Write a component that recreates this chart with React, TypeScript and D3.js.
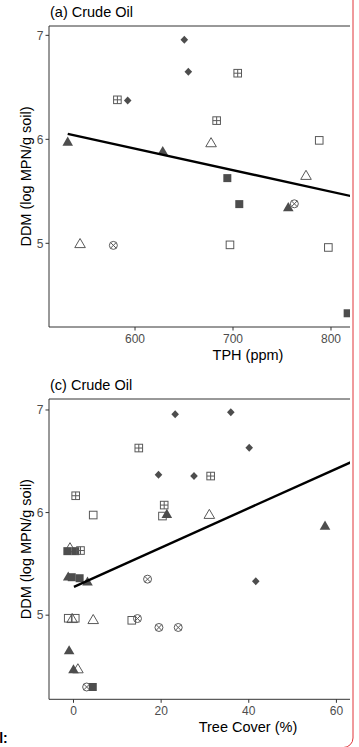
import React from "react";
import * as d3 from "d3";

// ---------- data ----------
// Panel (a): TPH (ppm) vs DDM
const tphValues = [650.3, 654.4, 704.8, 582, 592.5, 683.3, 531.3, 628.3, 677.6, 788, 774.5, 694.2, 706.4, 756.4, 762.6, 543.9, 577.9, 696.9, 797.3, 817];
const tphDDM = [6.957, 6.65, 6.636, 6.38, 6.373, 6.18, 5.98, 5.89, 5.97, 5.99, 5.656, 5.627, 5.377, 5.35, 5.38, 5.0, 4.98, 4.985, 4.96, 4.327];
const tphShape = ["dia", "dia", "sqp", "sqp", "dia", "sqp", "triF", "triF", "triO", "sqO", "triO", "sqF", "sqF", "triF", "cx", "triO", "cx", "sqO", "sqO", "sqF"];
const tphFitX = [531.3, 830];
const tphFitY = [6.053, 5.434];
const tphTicks = [600, 700, 800];

// Panel (c): Tree cover (%) vs DDM
const coverValues = [23.2, 35.9, 14.9, 40.1, 19.4, 27.5, 31.3, 0.5, 20.7, 20.3, 21.3, 4.5, 31.0, 57.4, -0.8, -1.4, 0.4, 1.6, -1.2, -0.4, 1.4, 3.2, 16.9, 41.6, -1.2, -0.3, 0.4, 4.5, 13.3, 14.6, 19.5, 23.9, -1.0, 1.0, 0.0, 3.0, 4.4];
const coverDDM = [6.958, 6.978, 6.629, 6.632, 6.368, 6.356, 6.356, 6.164, 6.073, 5.966, 5.99, 5.976, 5.985, 5.875, 5.66, 5.624, 5.624, 5.63, 5.38, 5.37, 5.36, 5.33, 5.351, 5.33, 4.97, 4.97, 4.97, 4.96, 4.95, 4.967, 4.88, 4.88, 4.66, 4.48, 4.475, 4.3, 4.3];
const coverShape = ["dia", "dia", "sqp", "dia", "dia", "dia", "sqp", "sqp", "sqp", "sqO", "triF", "sqO", "triO", "triF", "triO", "sqF", "sqF", "sqp", "triF", "sqF", "sqF", "triF", "cx", "dia", "sqO", "triO", "sqO", "triO", "sqO", "cx", "cx", "cx", "triF", "triO", "triF", "cx", "sqF"];
const coverFitX = [0.1, 70];
const coverFitY = [5.276, 6.62];
const coverTicks = [0, 20, 40, 60];

const ddmTicks = [5, 6, 7];

// ---------- styles ----------
const FILL = "#4d4d4d";
const OPEN = "#595959";
const FONT = "'Liberation Sans', Arial, Helvetica, sans-serif";

function Mark({ shape, x, y }: { shape: string; x: number; y: number }) {
  switch (shape) {
    case "triF":
      return <path d={`M${x},${y - 4.8}L${x + 5.3},${y + 4.3}L${x - 5.3},${y + 4.3}Z`} fill={FILL} />;
    case "triO":
      return <path d={`M${x},${y - 4.8}L${x + 5.3},${y + 4.3}L${x - 5.3},${y + 4.3}Z`} fill="none" stroke={OPEN} strokeWidth={1} />;
    case "sqF":
      return <rect x={x - 4} y={y - 4} width={8} height={8} fill={FILL} />;
    case "sqO":
      return <rect x={x - 3.8} y={y - 3.8} width={7.6} height={7.6} fill="none" stroke={OPEN} strokeWidth={1} />;
    case "sqp":
      return (
        <g fill="none" stroke={OPEN} strokeWidth={1}>
          <rect x={x - 3.8} y={y - 3.8} width={7.6} height={7.6} />
          <path d={`M${x - 3.8},${y}H${x + 3.8}M${x},${y - 3.8}V${y + 3.8}`} />
        </g>
      );
    case "cx":
      return (
        <g fill="none" stroke={OPEN} strokeWidth={1}>
          <circle cx={x} cy={y} r={4} />
          <path d={`M${x - 2.8},${y - 2.8}L${x + 2.8},${y + 2.8}M${x - 2.8},${y + 2.8}L${x + 2.8},${y - 2.8}`} />
        </g>
      );
    case "dia":
    default:
      return <path d={`M${x},${y - 4}L${x + 3.8},${y}L${x},${y + 4}L${x - 3.8},${y}Z`} fill={FILL} />;
  }
}

type PanelProps = {
  id: string;
  title: string;
  xLabel: string;
  top: number;
  bottom: number;
  xDomain: [number, number];
  yDomain: [number, number];
  xs: number[];
  ys: number[];
  shapes: string[];
  fitX: number[];
  fitY: number[];
  xTicks: number[];
};

const LEFT = 49;
const RIGHT = 350;

function Panel(p: PanelProps) {
  const x = d3.scaleLinear().domain(p.xDomain).range([LEFT, RIGHT + 0]);
  const y = d3.scaleLinear().domain(p.yDomain).range([p.bottom, p.top]);
  const line = d3
    .line<number>()
    .x((_, i) => x(p.fitX[i]))
    .y((d) => y(d));
  return (
    <g>
      <defs>
        <clipPath id={`clip-${p.id}`}>
          <rect x={LEFT} y={p.top} width={RIGHT - LEFT} height={p.bottom - p.top} />
        </clipPath>
      </defs>
      <text x={50} y={p.top - 9.5} fontSize={14.5} fill="#000" fontFamily={FONT}>
        {p.title}
      </text>
      <g clipPath={`url(#clip-${p.id})`}>
        {p.xs.map((v, i) => (
          <Mark key={i} shape={p.shapes[i]} x={x(v)} y={y(p.ys[i])} />
        ))}
        <path d={line(p.fitY) || ""} fill="none" stroke="#000" strokeWidth={2.4} />
      </g>
      {/* axes */}
      <path d={`M${LEFT},${p.top}V${p.bottom}H${RIGHT}`} fill="none" stroke="#333" strokeWidth={1} />
      <path d={`M${LEFT},${p.top}H${RIGHT}`} fill="none" stroke="#333" strokeWidth={1} />
      {ddmTicks.map((t) => (
        <g key={t}>
          <line x1={LEFT - 3.5} x2={LEFT} y1={y(t)} y2={y(t)} stroke="#333" strokeWidth={1} />
          <text x={LEFT - 5.5} y={y(t) + 4.2} textAnchor="end" fontSize={12} fill="#4d4d4d" fontFamily={FONT}>
            {t}
          </text>
        </g>
      ))}
      {p.xTicks.map((t) => (
        <g key={t}>
          <line x1={x(t)} x2={x(t)} y1={p.bottom} y2={p.bottom + 3.5} stroke="#333" strokeWidth={1} />
          <text x={x(t)} y={p.bottom + 16} textAnchor="middle" fontSize={12} fill="#4d4d4d" fontFamily={FONT}>
            {t}
          </text>
        </g>
      ))}
      <text x={248} y={p.bottom + 33} textAnchor="middle" fontSize={14.5} fill="#000" fontFamily={FONT}>
        {p.xLabel}
      </text>
      <text
        transform={`translate(30.5,${(p.top + p.bottom) / 2}) rotate(-90)`}
        textAnchor="middle"
        fontSize={14.5}
        fill="#000"
        fontFamily={FONT}
      >
        DDM (log MPN/g soil)
      </text>
    </g>
  );
}

export default function App() {
  return (
    <svg
      width={359}
      height={747}
      viewBox="0 0 359 747"
      style={{ position: "absolute", left: 0, top: 0, background: "#fff" }}
    >
      <rect x={0} y={0} width={359} height={747} fill="#fff" />
      <Panel
        id="a"
        title="(a) Crude Oil"
        xLabel="TPH (ppm)"
        top={26}
        bottom={327}
        xDomain={[512.2, 819.4]}
        yDomain={[4.195, 7.09]}
        xs={tphValues}
        ys={tphDDM}
        shapes={tphShape}
        fitX={tphFitX}
        fitY={tphFitY}
        xTicks={tphTicks}
      />
      <Panel
        id="c"
        title="(c) Crude Oil"
        xLabel="Tree Cover (%)"
        top={399}
        bottom={699.3}
        xDomain={[-5.59, 63.1]}
        yDomain={[4.18, 7.107]}
        xs={coverValues}
        ys={coverDDM}
        shapes={coverShape}
        fitX={coverFitX}
        fitY={coverFitY}
        xTicks={coverTicks}
      />
      <path d="M353,-2V738A9.5,9.5 0 0 1 343.5,747.5" fill="none" stroke="#e0343a" strokeWidth={1} />
      <text x={-0.8} y={743} fontSize={14} fontWeight="bold" fill="#000" fontFamily={FONT}>
        l:
      </text>
    </svg>
  );
}
